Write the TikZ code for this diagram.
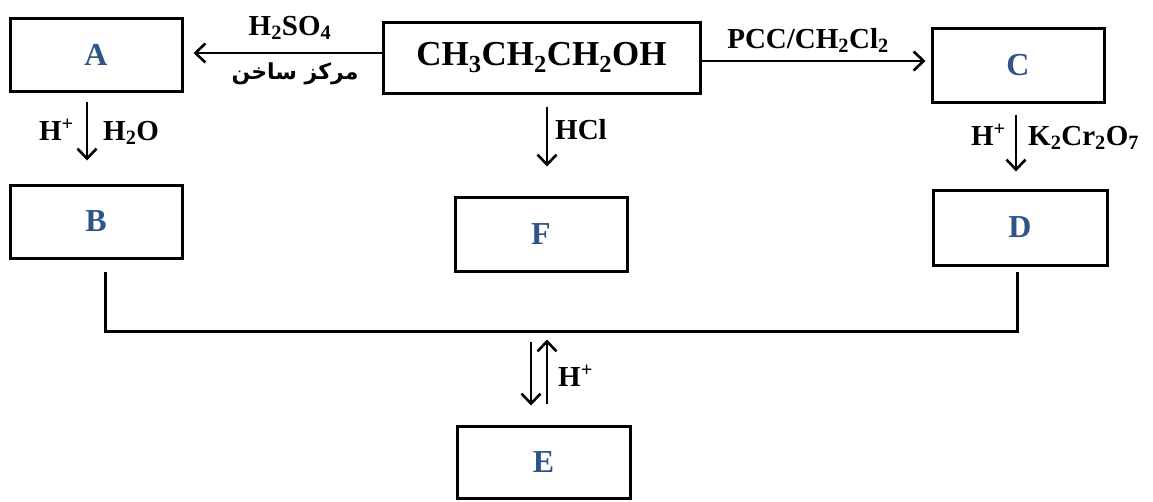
\documentclass[tikz,border=0pt]{standalone}
\usepackage{fontspec}
\setmainfont{Liberation Serif}
\newfontfamily\arabicfont[Script=Arabic]{DejaVu Sans}
\TeXXeTstate=1
\usetikzlibrary{arrows.meta,calc}
\definecolor{letterblue}{RGB}{47,85,135}
\begin{document}
\begin{tikzpicture}[x=1pt,y=-1pt,
  box/.style={draw,line width=3pt,minimum width=172pt,minimum height=73pt,inner sep=0pt,
    font=\fontsize{32}{38}\selectfont\bfseries,text=letterblue},
  arr/.style={line width=2.6pt,-{Straight Barb[length=10pt,width=19pt,line width=2.6pt]}},
  conn/.style={line width=3pt},
  lbl/.style={font=\fontsize{29}{34}\selectfont\bfseries,inner sep=0pt}]
\useasboundingbox (0,0) rectangle (1153,501);
% boxes
\node[box] (A) at (96,54.5) {A};
\node[box] (B) at (96,221.5) {B};
\node[box,minimum width=317pt,minimum height=71pt,text=black,
  font=\fontsize{35}{42}\selectfont\bfseries] (P) at (541.5,57.5)
  {CH\textsubscript{3}CH\textsubscript{2}CH\textsubscript{2}OH};
\node[box,minimum height=74pt] (F) at (541,234) {F};
\node[box,minimum height=74pt] (C) at (1018,65) {C};
\node[box,minimum width=174pt,minimum height=75pt] (D) at (1020,227.5) {D};
\node[box,minimum width=173pt,minimum height=72pt] (E) at (543.5,462) {E};
% arrows
\draw[arr] ($(P.west)+(0,-4.5)$) -- ($(A.east)+(10,-1.5)$);
\draw[arr] ($(P.east)+(0,3.5)$) -- ($(C.west)+(-5,-4)$);
\draw[arr] ($(A.south)+(-9,9)$) -- ($(B.north)+(-9,-23)$);
\draw[arr] ($(P.south)+(5.5,12)$) -- ($(F.north)+(6,-29)$);
\draw[arr] ($(C.south)+(-2,11)$) -- ($(D.north)+(-4,-17)$);
\draw[conn] ($(B.south)+(9,12)$) |- ($(D.south)+(-3,65)$) -- ($(D.south)+(-3,5)$);
\draw[arr] ($(E.north)+(-12.5,-83)$) -- ($(E.north)+(-12.5,-19)$);
\draw[arr] ($(E.north)+(3.5,-21)$) -- ($(E.north)+(3.5,-85)$);
% labels
\node[lbl,anchor=base] (l1) at (290,35) {H\textsubscript{2}SO\textsubscript{4}};
\node[inner sep=0pt,font=\arabicfont\fontsize{22}{26}\selectfont\bfseries] (l2) at (295,74) {\beginR مركز ساخن\endR};
\node[lbl,anchor=base] (l3) at (808,48) {PCC/CH\textsubscript{2}Cl\textsubscript{2}};
\node[lbl,anchor=base east] (l4) at (74,140) {H\textsuperscript{+}};
\node[lbl,anchor=base west] (l5) at (103,140) {H\textsubscript{2}O};
\node[lbl,anchor=base west] (l6) at (555,139) {HCl};
\node[lbl,anchor=base east] (l7) at (1006,145) {H\textsuperscript{+}};
\node[lbl,anchor=base west] (l8) at (1028,145) {K\textsubscript{2}Cr\textsubscript{2}O\textsubscript{7}};
\node[lbl,anchor=base west] (l9) at (558,386) {H\textsuperscript{+}};
\end{tikzpicture}
\end{document}
